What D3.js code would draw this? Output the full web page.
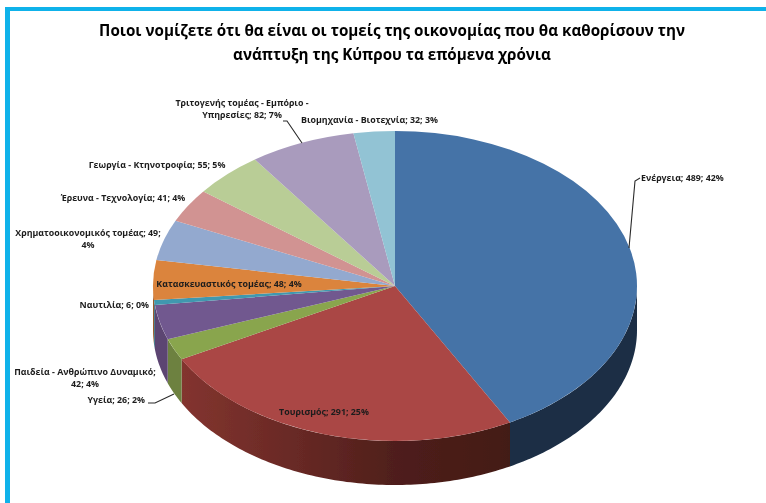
<!DOCTYPE html>
<html><head><meta charset="utf-8">
<script src="https://cdn.jsdelivr.net/npm/d3@7/dist/d3.min.js"></script>
<style>html,body{margin:0;padding:0;background:#fff}svg{display:block}
text{font-family:"Open Sans","Noto Sans",sans-serif}</style></head>
<body><svg id="c" width="766" height="503"></svg>
<script>
const titleLines=["Ποιοι νομίζετε ότι θα είναι οι τομείς της οικονομίας που θα καθορίσουν την","ανάπτυξη της Κύπρου τα επόμενα χρόνια"];
const categories=["Ενέργεια","Τουρισμός","Υγεία","Παιδεία - Ανθρώπινο Δυναμικό","Ναυτιλία","Κατασκευαστικός τομέας","Χρηματοοικονομικός τομέας","Έρευνα - Τεχνολογία","Γεωργία - Κτηνοτροφία","Τριτογενής τομέας - Εμπόριο - Υπηρεσίες","Βιομηχανία - Βιοτεχνία"];
const values=[489,291,26,42,6,48,49,41,55,82,32];
const percents=[42,25,2,4,0,4,4,4,5,7,3];
const topColors=["#4573a7","#aa4644","#89a54e","#71588f","#4198af","#db843d","#93a9cf","#d19392","#b9cd96","#a99bbd","#92c3d4"];
const sideColors=["#1a2d45","url(#redSide)","#6d8140","#5c4572","#2c6a7c","#9a5c2a","#93a9cf","#d19392","#b9cd96","#a99bbd","#92c3d4"];
// label placement: [x, y of first line, anchor, wrapped lines or null]
const labelPlace=[[641,178,"start"],[324,412,"middle"],[145,400,"end"],[85,372,"middle",["Παιδεία - Ανθρώπινο Δυναμικό;","42; 4%"]],[149,305,"end"],[229,284,"middle"],[88,233,"middle",["Χρηματοοικονομικός τομέας; 49;","4%"]],[123,197.5,"middle"],[157,165,"middle"],[242,103,"middle",["Τριτογενής τομέας - Εμπόριο -","Υπηρεσίες; 82; 7%"]],[301,120,"start"]];
const leaders=[[[629,248],[635,181],[640,178]],[[148,403],[155,403],[174,394]],[[283,121],[287,121],[302,143]]];

const W=766,H=503,cx=395,cy=286,rx=242,ry=155,depth=44;
const svg=d3.select("#c");
const defs=svg.append("defs");
const g=defs.append("linearGradient").attr("id","redSide").attr("gradientUnits","userSpaceOnUse").attr("x1",181).attr("x2",510).attr("y1",0).attr("y2",0);
[[0,"#83342f"],[.35,"#682925"],[.65,"#4f1f1b"],[1,"#431a16"]].forEach(s=>g.append("stop").attr("offset",s[0]).attr("stop-color",s[1]));
defs.append("filter").attr("id","soft").append("feGaussianBlur").attr("stdDeviation",0.45);
defs.append("filter").attr("id","softText").append("feGaussianBlur").attr("stdDeviation",0.3);

// frame
svg.append("rect").attr("x",5).attr("y",7).attr("width",W-5).attr("height",4).attr("fill","#0fb2ea");
svg.append("rect").attr("x",5).attr("y",7).attr("width",5).attr("height",H-7).attr("fill","#0fb2ea");

const pie=d3.pie().value(d=>d).sort(null);
const arcs=pie(values);
const px=d3.scaleLinear().domain([-1,1]).range([cx-rx,cx+rx]);
const py=d3.scaleLinear().domain([-1,1]).range([cy-ry,cy+ry]);
const plot=svg.append("g").attr("filter","url(#soft)");
const edge=d3.line().x(a=>px(Math.sin(a))).y(a=>py(-Math.cos(a)));
const F=Math.PI/2, B=3*Math.PI/2;
// walls
arcs.forEach((a,i)=>{
  const s=Math.max(a.startAngle,F), e=Math.min(a.endAngle,B);
  if(e<=s) return;
  const n=Math.max(2,Math.ceil((e-s)*60));
  const t=d3.range(n+1).map(k=>s+(e-s)*k/n);
  const top=edge(t);
  const bottom=edge(t.slice().reverse()).slice(1);
  plot.append("path")
    .attr("d",top+"L"+bottom.split("L").map(p=>{const c=p.split(",");return c[0]+","+(+c[1]+depth)}).join("L")+"Z")
    .attr("fill",sideColors[i]);
});
// tops
const arc=d3.arc().innerRadius(0).outerRadius(1);
plot.append("g").attr("transform",`translate(${cx},${cy}) scale(${rx},${ry})`)
  .selectAll("path").data(arcs).join("path").attr("d",arc).attr("fill",(d,i)=>topColors[i]);

// leaders
svg.append("g").selectAll("path").data(leaders).join("path")
  .attr("d",d3.line()).attr("fill","none").attr("stroke","#2a2a2a").attr("stroke-width",1.1);

// title
svg.append("g").attr("filter","url(#softText)").selectAll("text").data(titleLines).join("text")
  .attr("x",392).attr("y",(d,i)=>36+i*23.5).attr("text-anchor","middle")
  .attr("font-size",15.2).attr("font-weight",700).attr("fill","#000").text(d=>d);

// labels
const lab=svg.append("g").attr("filter","url(#softText)").attr("font-size",8.85).attr("font-weight",700).attr("fill","#1c1c1c");
categories.forEach((c,i)=>{
  const p=labelPlace[i];
  const lines=p[3]||[`${c}; ${values[i]}; ${percents[i]}%`];
  lines.forEach((l,k)=>lab.append("text").attr("x",p[0]).attr("y",p[1]+3+k*11.7).attr("text-anchor",p[2]).text(l));
});
</script></body></html>
